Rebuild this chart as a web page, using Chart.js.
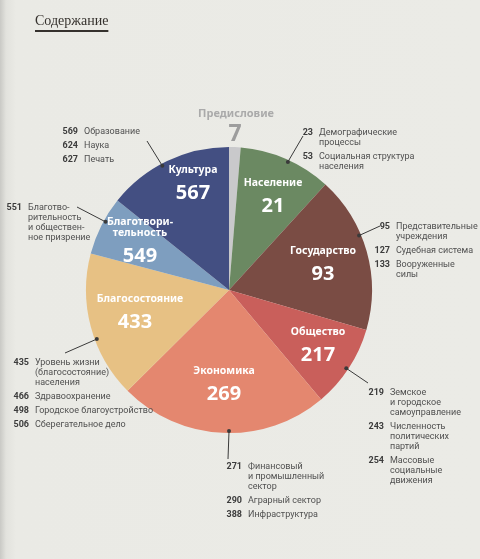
<!DOCTYPE html>
<html lang="ru">
<head>
<meta charset="utf-8">
<title>Содержание</title>
<script src="https://cdn.jsdelivr.net/npm/chart.js@4.4.1/dist/chart.umd.min.js"></script>
<style>
	html, body {
		margin: 0;
		padding: 0;
	}
	body {
		width: 480px;
		height: 559px;
		overflow: hidden;
		background: linear-gradient(to right, #c9c9c5 0px, #e2e2dd 6px, #eaeae5 16px, #ebebe6 100%);
	}
	canvas {
		display: block;
	}
</style>
</head>
<body>
<canvas id="toc-chart" width="480" height="559"></canvas>
<script>
// sections of the book: name, first page, share of the circle (degrees)
const sectionNames = [
	"Предисловие",
	"Население",
	"Государство",
	"Общество",
	"Экономика",
	"Благосостояние",
	"Благотворительность",
	"Культура",
];
const sectionPages = [7, 21, 93, 217, 269, 433, 549, 567];
const sectionShares = [4.7, 37.7, 63.8, 33.7, 85.3, 59.6, 23.9, 51.3];

// label written inside the slice (hyphenated where the original breaks it)
const sliceLabels = [
	"",
	"Население",
	"Государство",
	"Общество",
	"Экономика",
	"Благосостояние",
	"Благотвори-\nтельность",
	"Культура",
];

// chapters of each section
const subPages = [
	[],
	[23, 53],
	[95, 127, 133],
	[219, 243, 254],
	[271, 290, 388],
	[435, 466, 498, 506],
	[551],
	[569, 624, 627],
];
const subTitles = [
	[],
	["Демографические\nпроцессы", "Социальная структура\nнаселения"],
	["Представительные\nучреждения", "Судебная система", "Вооруженные\nсилы"],
	["Земское\nи городское\nсамоуправление", "Численность\nполитических\nпартий", "Массовые\nсоциальные\nдвижения"],
	["Финансовый\nи промышленный\nсектор", "Аграрный сектор", "Инфраструктура"],
	["Уровень жизни\n(благосостояние)\nнаселения", "Здравоохранение", "Городское благоустройство", "Сберегательное дело"],
	["Благотво-\nрительность\nи обществен-\nное призрение"],
	["Образование", "Наука", "Печать"],
];

const sliceColors = [
	"#c9c9cb",
	"#6b8962",
	"#7a4c44",
	"#c95f5b",
	"#e4876f",
	"#e7c184",
	"#7e9ebf",
	"#434f82",
];

// where the white label sits, offset from the pie centre
const sliceLabelOffset = [
	null,
	[44, -107],
	[94, -39],
	[89, 42],
	[-5, 81],
	[-89, 9],
	[-89, -68],
	[-36, -120],
];

// callouts: where the dot sits inside the slice, where the line ends, where the list starts
const callouts = [
	null,
	{ frac: 0.53, lineEnd: [303, 136], numRight: 313, top: 133 },
	{ frac: 0.39, lineEnd: [380, 226], numRight: 390, top: 227 },
	{ frac: 0.52, lineEnd: [368, 383], numRight: 384, top: 393 },
	{ frac: 0.47, lineEnd: [228, 459], numRight: 242, top: 467 },
	{ frac: 0.41, lineEnd: [65, 353], numRight: 29, top: 363 },
	{ frac: 0.59, lineEnd: [77, 207], numRight: 22, top: 208 },
	{ frac: 0.45, lineEnd: [147, 141], numRight: 78, top: 132 },
];

const FONT = "'Noto Sans', 'Open Sans', sans-serif";
const SMALL_FONT = "Roboto, 'Noto Sans', sans-serif";

const tocPlugin = {
	id: "tocLabels",
	beforeDraw: (chart) => {
		const ctx = chart.ctx;
		ctx.save();
		// heading
		ctx.fillStyle = "#35312d";
		ctx.font = "14px 'Liberation Serif', 'DejaVu Serif', serif";
		ctx.textBaseline = "alphabetic";
		ctx.textAlign = "left";
		ctx.fillText("Содержание", 35, 25);
		const w = ctx.measureText("Содержание").width;
		ctx.fillRect(35, 30, w, 2);
		ctx.restore();
	},
	afterDatasetsDraw: (chart) => {
		const ctx = chart.ctx;
		const arcs = chart.getDatasetMeta(0).data;
		const first = arcs[0].getProps(["x", "y", "outerRadius"], true);
		const cx = first.x;
		const cy = first.y;

		ctx.save();
		ctx.textAlign = "center";
		ctx.textBaseline = "middle";

		// preface label above the pie
		ctx.fillStyle = "#aaaaaa";
		ctx.font = `bold 11px ${FONT}`;
		ctx.fillText(sectionNames[0], cx + 7, cy - 176);
		ctx.fillStyle = "#9d9d9d";
		ctx.font = `bold 23px ${FONT}`;
		ctx.fillText(String(sectionPages[0]), cx + 6, cy - 156);

		// labels inside slices
		arcs.forEach((arc, i) => {
			const off = sliceLabelOffset[i];
			if (!off) return;
			const lines = sliceLabels[i].split("\n");
			ctx.fillStyle = "#ffffff";
			ctx.font = `bold 10.5px ${FONT}`;
			lines.forEach((line, k) => {
				ctx.fillText(line, cx + off[0], cy + off[1] + k * 11);
			});
			ctx.font = `bold 20px ${FONT}`;
			ctx.fillText(
				String(sectionPages[i]),
				cx + off[0] - (i === 5 ? 5 : 0),
				cy + off[1] + (lines.length - 1) * 11 + 23
			);
		});

		// leader lines and chapter lists
		arcs.forEach((arc, i) => {
			const c = callouts[i];
			if (!c) return;
			const p = arc.getProps(["startAngle", "endAngle", "outerRadius"], true);
			const a = p.startAngle + c.frac * (p.endAngle - p.startAngle);
			const r = p.outerRadius - 2;
			const dx = cx + Math.cos(a) * r;
			const dy = cy + Math.sin(a) * r;

			ctx.strokeStyle = "#3a3a3a";
			ctx.lineWidth = 1;
			ctx.beginPath();
			ctx.moveTo(dx, dy);
			ctx.lineTo(c.lineEnd[0], c.lineEnd[1]);
			ctx.stroke();
			ctx.fillStyle = "#3a3a3a";
			ctx.beginPath();
			ctx.arc(dx, dy, 2, 0, Math.PI * 2);
			ctx.fill();

			let y = c.top;
			subPages[i].forEach((page, k) => {
				ctx.textAlign = "right";
				ctx.fillStyle = "#3c3c3c";
				ctx.font = `bold 9px ${SMALL_FONT}`;
				ctx.fillText(String(page), c.numRight, y);
				ctx.textAlign = "left";
				ctx.fillStyle = "#505050";
				ctx.font = `9px ${SMALL_FONT}`;
				const lines = subTitles[i][k].split("\n");
				lines.forEach((line, j) => {
					ctx.fillText(line, c.numRight + 6, y + j * 10);
				});
				y += (lines.length - 1) * 10 + 14;
			});
		});
		ctx.restore();
	},
};

new Chart(document.getElementById("toc-chart"), {
	type: "pie",
	data: {
		labels: sectionNames,
		datasets: [
			{
				data: sectionShares,
				backgroundColor: sliceColors,
				borderWidth: 0,
			},
		],
	},
	options: {
		responsive: false,
		animation: false,
		layout: {
			padding: { left: 86, right: 108, top: 147, bottom: 126 },
		},
		plugins: {
			legend: { display: false },
			tooltip: { enabled: false },
		},
	},
	plugins: [tocPlugin],
});
</script>
</body>
</html>
